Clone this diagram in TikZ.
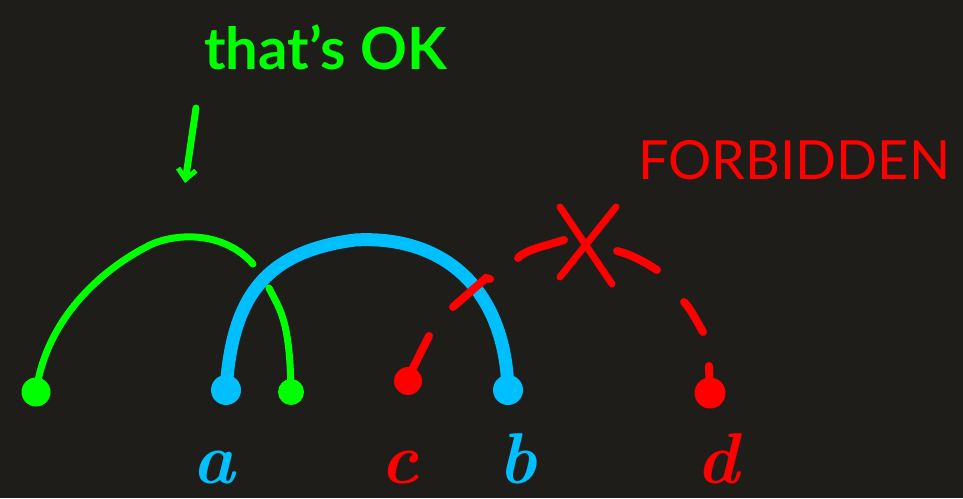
\documentclass[tikz,border=0pt]{standalone}
\usepackage{fontspec}
\setmainfont{Lato}
\newfontfamily\lblfont{Latin Modern Roman}
\usetikzlibrary{arrows.meta}
\definecolor{bg}{RGB}{30,29,25}
\definecolor{gr}{RGB}{0,255,0}
\definecolor{bl}{RGB}{0,191,255}
\definecolor{rd}{RGB}{255,0,0}
\tikzset{
  dotg/.style={circle,fill=gr,inner sep=0pt,minimum size=29pt},
  dotb/.style={circle,fill=bl,inner sep=0pt,minimum size=30pt},
  dotr/.style={circle,fill=rd,inner sep=0pt,minimum size=28pt},
  gline/.style={draw=gr,line width=7pt,line cap=round},
  bline/.style={draw=bl,line width=13pt,line cap=round},
  rline/.style={draw=rd,line width=8pt,line cap=round},
  lbl/.style={font=\lblfont\bfseries\itshape\fontsize{72}{72}\selectfont,anchor=base,inner sep=0pt},
}
\begin{document}
\begin{tikzpicture}[x=1pt,y=-1pt]
\fill[bg] (0,0) rectangle (963,498);
\useasboundingbox (0,0) rectangle (963,498);
% texts
\node[text=gr,font=\bfseries\fontsize{58}{58}\selectfont,anchor=base west,inner sep=0pt] (ok) at (204,69) {that's OK};
\node[text=rd,font=\fontsize{54}{54}\selectfont,anchor=base west,inner sep=0pt] (forb) at (638,179) {FORBIDDEN};
% arrow
\coordinate (arrs) at (196,108);
\coordinate (arre) at (185,183);
\draw[gline,-{Straight Barb[length=10pt,width=18pt,line width=5pt]}] (arrs) -- (arre);
% dots
\node[dotg] (g1) at (36,392) {};
\node[dotg,minimum size=26pt] (g2) at (291,392) {};
\node[dotb] (a1) at (226,390) {};
\node[dotb] (b1) at (508,390) {};
\node[dotr] (c1) at (408,381) {};
\node[dotr,minimum size=31pt] (d1) at (710,393) {};
% green arcs
\coordinate (gm1) at (253,264);
\coordinate (gm2) at (269,288);
\draw[gline] (g1.center) .. controls (46,320) and (100,270) .. (150,245) .. controls (178,232) and (225,232) .. (gm1);
\draw[gline] (gm2) .. controls (280,310) and (290,320) .. (g2.center);
% blue arc
\draw[bline] (a1.center) .. controls (232,300) and (262,252) .. (355,240) .. controls (440,235) and (505,285) .. (b1.center);
% red dashes
\coordinate (r1) at (412,370); \coordinate (r2) at (429,336);
\coordinate (r3) at (453,307); \coordinate (r4) at (486,278);
\coordinate (r5) at (518,258); \coordinate (r6) at (564,240);
\coordinate (r7) at (617,251); \coordinate (r8) at (657,270);
\coordinate (r9) at (684,302); \coordinate (r10) at (703,332);
\coordinate (r11) at (709,366); \coordinate (r12) at (711,382);
\draw[rline] (c1.center) -- (r1) -- (r2);
\draw[rline] (r3) -- (r4) -- ++(4,1);
\draw[rline] (r5) .. controls (525,250) and (545,246) .. (r6);
\draw[rline] (r7) .. controls (630,254) and (645,262) .. (r8);
\draw[rline] (r9) .. controls (690,308) and (695,318) .. (r10);
\draw[rline] (r11) -- (d1.center);
% X
\coordinate (x1) at (560,207); \coordinate (x2) at (612,284);
\coordinate (x3) at (616,207); \coordinate (x4) at (560,277);
\draw[rline,line width=7pt] (x1) -- (x2);
\draw[rline,line width=7pt] (x3) -- (x4);
% letters
\node[lbl,text=bl] (la) at (214,483) {a};
\node[lbl,text=rd] (lc) at (400,483) {c};
\node[lbl,text=bl] (lb) at (518,483) {b};
\node[lbl,text=rd] (ld) at (718,483) {d};
\end{tikzpicture}
\end{document}
